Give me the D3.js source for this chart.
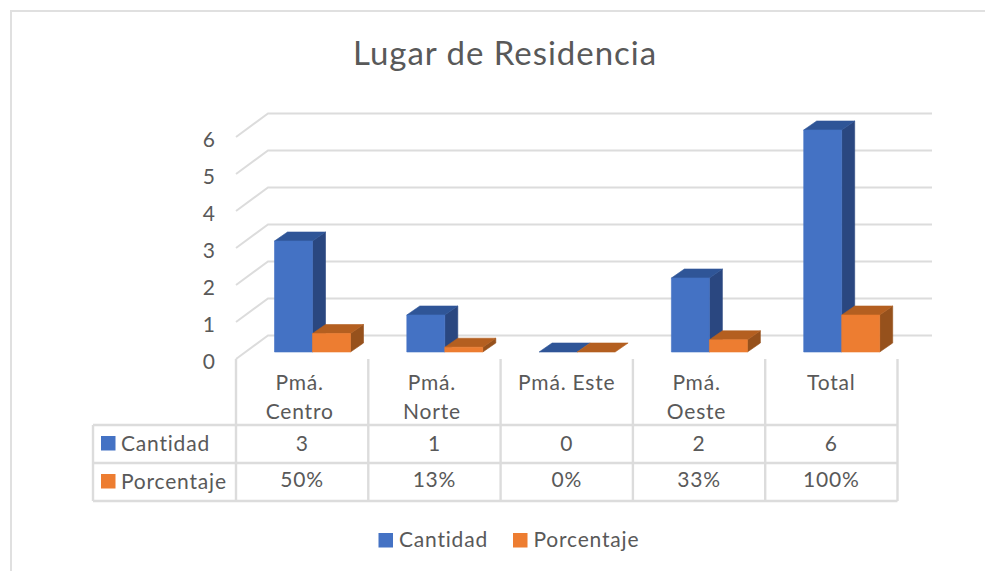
<!DOCTYPE html>
<html><head><meta charset="utf-8">
<script src="https://cdn.jsdelivr.net/npm/d3@7"></script>
<style>
html,body{margin:0;padding:0;background:#fff}
svg{display:block}
text{font-family:Lato,"Open Sans",sans-serif;fill:#595959}
</style></head><body><svg id="c" width="987" height="571"></svg>
<script>
const title = "Lugar de Residencia";
const categories = ["Pmá.\nCentro", "Pmá.\nNorte", "Pmá. Este", "Pmá.\nOeste", "Total"];
const seriesNames = ["Cantidad", "Porcentaje"];
const cantidad = [3, 1, 0, 2, 6];
const porcentaje = [0.5, 0.13, 0, 0.33, 1];
const cantidadLabels = ["3", "1", "0", "2", "6"];
const porcentajeLabels = ["50%", "13%", "0%", "33%", "100%"];
const yTicks = [0, 1, 2, 3, 4, 5, 6];

const colors = {
  Cantidad: {front: "#4472c4", top: "#2f5597", side: "#2a4780"},
  Porcentaje: {front: "#ed7d31", top: "#b45f20", side: "#96511c"}
};
const GRID = "#dcdcdc";
const svg = d3.select("#c");

// chart frame (only the top and left edges are visible)
svg.append("path").attr("d", "M11 571V11H985").attr("fill", "none").attr("stroke", "#e0e0e0").attr("stroke-width", 2);

svg.append("text").attr("x", 505).attr("y", 65).attr("text-anchor", "middle")
  .attr("font-size", 33).style("letter-spacing", "0.97px").text(title);

// scales
const x = d3.scaleBand().domain(d3.range(categories.length)).range([236, 897.5]);
const xs = d3.scaleBand().domain(seriesNames).range([38.5, 114.5]);
const yFloor = d3.scaleLinear().domain([0, 6]).range([359, 137]);   // front edge of the walls
const yBar = d3.scaleLinear().domain([0, 6]).range([352, 130]);     // front face of bars
const wallDx = 32, wallDy = -23.5, barDx = 13, barDy = -9;

// gridlines: slanted side wall + back wall
const grid = svg.append("g").attr("fill", "none").attr("stroke", GRID).attr("stroke-width", 2);
grid.selectAll("path").data(yTicks).join("path")
  .attr("d", v => `M236 ${yFloor(v)}L${236 + wallDx} ${yFloor(v) + wallDy}H932`);

// y axis labels
const yAxis = d3.axisLeft(yFloor).tickValues(yTicks).tickFormat(d3.format("d")).tickSize(0).tickPadding(0);
const ya = svg.append("g").attr("transform", "translate(215,2)").call(yAxis);
ya.select(".domain").remove();
ya.selectAll("text").attr("font-size", 21).style("font-family", "Lato").attr("fill", "#595959").attr("dy", "0.35em");

// 3D bars
const bars = [];
categories.forEach((c, i) => {
  bars.push({i, s: "Cantidad", v: cantidad[i]});
  bars.push({i, s: "Porcentaje", v: porcentaje[i]});
});
const bg = svg.selectAll("g.bar").data(bars).join("g").attr("class", "bar");
bg.each(function(d) {
  const g = d3.select(this), c = colors[d.s];
  const x0 = x(d.i) + xs(d.s), x1 = x0 + xs.bandwidth();
  const yt = yBar(d.v), yb = yBar(0);
  const poly = (pts, fill) => g.append("polygon").attr("points", pts.map(p => p.join(",")).join(" "))
    .attr("fill", fill).attr("stroke", fill).attr("stroke-width", 0.6);
  if (d.v > 0) poly([[x1, yt], [x1 + barDx, yt + barDy], [x1 + barDx, yb + barDy], [x1, yb]], c.side);
  poly([[x0, yt], [x0 + barDx, yt + barDy], [x1 + barDx, yt + barDy], [x1, yt]], c.top);
  if (d.v > 0) poly([[x0, yt], [x1, yt], [x1, yb], [x0, yb]], c.front);
});

// data table
const rows = [425, 463, 501];
const tbl = svg.append("g").attr("stroke", GRID).attr("stroke-width", 2.4).attr("fill", "none");
rows.forEach(r => tbl.append("line").attr("x1", 93).attr("x2", 897.5).attr("y1", r).attr("y2", r));
tbl.append("line").attr("x1", 93).attr("x2", 93).attr("y1", 425).attr("y2", 501);
d3.range(categories.length + 1).forEach(i => {
  const px = i < categories.length ? x(i) : x.range()[1];
  tbl.append("line").attr("x1", px).attr("x2", px).attr("y1", 359).attr("y2", 501);
});

const FS = 21, LS = "0.8px";
const label = (xp, yp, t, anchor) => svg.append("text").attr("x", xp).attr("y", yp)
  .attr("text-anchor", anchor).attr("font-size", FS).style("letter-spacing", LS).text(t);
const cx = i => x(i) + x.bandwidth() / 2;
categories.forEach((c, i) => {
  const lines = c.split("\n");
  lines.forEach((ln, k) => label(cx(i) - (lines.length > 1 ? 2.5 : 0), 390 + k * 28.5, ln, "middle"));
  label(cx(i), 451, cantidadLabels[i], "middle");
  label(cx(i), 487, porcentajeLabels[i], "middle");
});
seriesNames.forEach((s, k) => {
  const yy = [436, 474][k];
  svg.append("rect").attr("x", 101).attr("y", yy).attr("width", 14.5).attr("height", 14.5).attr("fill", colors[s].front);
  label(121, yy + 15, s, "start");
});

// legend
seriesNames.forEach((s, k) => {
  const lx = [378.5, 513][k];
  svg.append("rect").attr("x", lx).attr("y", 533).attr("width", 14.5).attr("height", 14.5).attr("fill", colors[s].front);
  label(lx + 20.5, 547, s, "start");
});
</script></body></html>
